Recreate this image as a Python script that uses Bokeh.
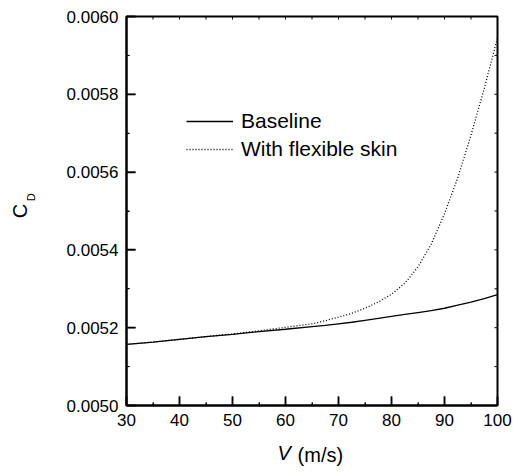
from bokeh.plotting import figure
from bokeh.models import (Range1d, FixedTicker, PrintfTickFormatter, LinearAxis,
                          Legend, LegendItem, ColumnDataSource)
from bokeh.embed import file_html
from bokeh.resources import INLINE

# ---------------- data ----------------
V = [30, 35, 40, 45, 50, 55, 60, 65, 67.5, 70, 72.5, 75, 77.5, 80, 82.5, 85,
     87.5, 90, 92.5, 95, 97.5, 100]
cd_baseline = [0.005157, 0.005163, 0.005170, 0.005177, 0.005183, 0.005190, 0.005196,
               0.005203, 0.005206, 0.005210, 0.005214, 0.005219, 0.005224, 0.005229,
               0.005234, 0.005239, 0.005244, 0.005250, 0.005258, 0.005266, 0.005275,
               0.005285]
cd_flexible = [0.005157, 0.005163, 0.005170, 0.005177, 0.005184, 0.005192, 0.005201,
               0.005210, 0.005218, 0.005227, 0.005237, 0.005250, 0.005266, 0.005286,
               0.005314, 0.005356, 0.005415, 0.005493, 0.005585, 0.005695, 0.005815,
               0.005945]

x_major = [30, 40, 50, 60, 70, 80, 90, 100]
x_minor = [35, 45, 55, 65, 75, 85, 95]
y_major = [0.0050, 0.0052, 0.0054, 0.0056, 0.0058, 0.0060]
y_minor = [0.0051, 0.0053, 0.0055, 0.0057, 0.0059]
x_top = [30, 35, 40, 45, 50, 55, 60, 65, 70, 75, 80, 85, 90, 95, 100]
y_right = [0.0050, 0.0051, 0.0052, 0.0053, 0.0054, 0.0055, 0.0056, 0.0057, 0.0058, 0.0059, 0.0060]

series_names = ["Baseline", "With flexible skin"]
x_title_var = "V"
x_title_unit = "(m/s)"
y_title_main = "C"
y_title_sub = "D"

# ---------------- layout ----------------
W, H = 513, 474
L, R, T, B = 126, 16, 16, 69
XMIN, XMAX, YMIN, YMAX = 30, 100, 0.0050, 0.0060
FONT = "Liberation Sans"
NB = "\u00a0"

fw = W - L - R
fh = H - T - B
dx = (XMAX - XMIN) / fw   # data units per pixel (x)
dy = (YMAX - YMIN) / fh   # data units per pixel (y)

p = figure(width=W, height=H, output_backend="svg", toolbar_location=None,
           x_range=Range1d(XMIN, XMAX), y_range=Range1d(YMIN, YMAX),
           min_border_left=L, min_border_right=R, min_border_top=T, min_border_bottom=B)
p.grid.visible = False
p.outline_line_color = "black"
p.outline_line_width = 2
p.background_fill_color = "white"
p.border_fill_color = "white"

xa = p.xaxis[0]
xa.ticker = FixedTicker(ticks=x_major, minor_ticks=x_minor)
ya = p.yaxis[0]
ya.ticker = FixedTicker(ticks=y_major, minor_ticks=y_minor)
ya.formatter = PrintfTickFormatter(format="%.4f")

for ax in (xa, ya):
    ax.axis_line_width = 2
    ax.axis_line_color = "black"
    ax.major_tick_in = 9
    ax.major_tick_out = 0
    ax.minor_tick_in = 3
    ax.minor_tick_out = 0
    ax.major_tick_line_width = 1.5
    ax.minor_tick_line_width = 1
    ax.major_tick_line_color = "black"
    ax.minor_tick_line_color = "black"
    ax.major_label_text_font = FONT
    ax.major_label_text_font_size = "17px"
    ax.major_label_text_color = "black"
xa.major_label_standoff = 8
ya.major_label_standoff = 8


def title_axis(text, size, style, standoff):
    return LinearAxis(ticker=FixedTicker(ticks=[], minor_ticks=[]),
                      axis_line_color=None, major_tick_line_color=None,
                      minor_tick_line_color=None, axis_label=text,
                      axis_label_text_font=FONT, axis_label_text_font_size=size,
                      axis_label_text_font_style=style, axis_label_text_color="black",
                      axis_label_standoff=standoff)


# x-axis title: italic V followed by (m/s) on the same line (padding with no-break spaces)
axV = title_axis(x_title_var + NB * 10, "20px", "italic", 13)
axU = title_axis(NB * 3 + x_title_unit, "20px", "normal", -23)
p.add_layout(axV, "below")
p.add_layout(axU, "below")

# y-axis title: C with subscript D
ayD = title_axis(NB * 9 + y_title_sub, "11px", "normal", 27)
ayC = title_axis(y_title_main, "20px", "normal", -9)
p.add_layout(ayD, "left")
p.add_layout(ayC, "left")

# data curves
src = ColumnDataSource(dict(v=V, base=cd_baseline, flex=cd_flexible))
r1 = p.line("v", "base", source=src, line_color="black", line_width=1.3)
r2 = p.line("v", "flex", source=src, line_color="black", line_width=1.3, line_dash="1 2")

# inner tick marks on all four sides, built from the tick lists
maj, mnr, sml = 9, 3, 3


def vticks(xs, y_from, length_px, sign):
    return dict(xs=[[x, x] for x in xs],
                ys=[[y_from, y_from + sign * length_px * dy] for _ in xs])


def hticks(ys, x_from, length_px, sign):
    return dict(ys=[[y, y] for y in ys],
                xs=[[x_from, x_from + sign * length_px * dx] for _ in ys])


tick_sets = [
    (vticks(x_major, YMIN, maj, +1), 1.5),
    (vticks(x_minor, YMIN, mnr, +1), 1.0),
    (vticks(x_top, YMAX, sml, -1), 1.0),
    (hticks(y_major, XMIN, maj, +1), 1.5),
    (hticks(y_minor, XMIN, mnr, +1), 1.0),
    (hticks(y_right, XMAX, sml, -1), 1.0),
]
for data, lw in tick_sets:
    s = ColumnDataSource(data)
    tr = p.multi_line(xs="xs", ys="ys", source=s, line_color="black", line_width=lw)
    tr.level = "overlay"

legend = Legend(items=[LegendItem(label=series_names[0], renderers=[r1]),
                       LegendItem(label=series_names[1], renderers=[r2])],
                location=(60, 242), margin=0, padding=0, spacing=0,
                glyph_width=47, glyph_height=28, label_height=28, label_standoff=8,
                label_text_font=FONT, label_text_font_size="21px",
                label_text_color="black",
                border_line_color=None, background_fill_alpha=0)
p.add_layout(legend, "center")

open("out.html", "w").write(file_html(p, INLINE))
